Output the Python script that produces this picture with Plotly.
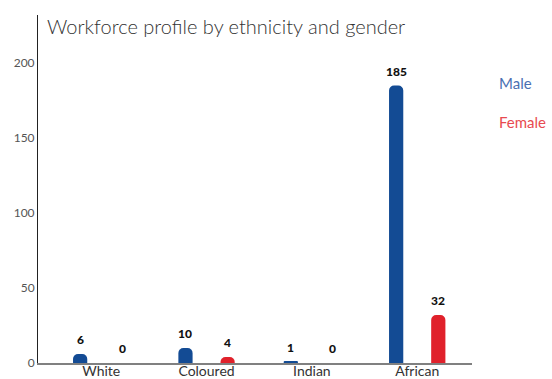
import plotly.graph_objects as go

# Workforce headcount by ethnicity and gender
categories = ["White", "Coloured", "Indian", "African"]
male = [6, 10, 1, 185]
female = [0, 4, 0, 32]
y_ticks = [0, 50, 100, 150, 200]

MALE_BAR = "#134b94"
FEMALE_BAR = "#e0212b"
MALE_TEXT = "#4a70b2"
FEMALE_TEXT = "#e84a50"
FONT = "Lato"

idx = list(range(len(categories)))
shift = 0.2
bar_w = 0.135

fig = go.Figure()
fig.add_trace(go.Bar(x=[i - shift for i in idx], y=male, width=bar_w,
                     marker=dict(color=MALE_BAR, line=dict(width=0)), name="Male"))
fig.add_trace(go.Bar(x=[i + shift for i in idx], y=female, width=bar_w,
                     marker=dict(color=FEMALE_BAR, line=dict(width=0)), name="Female"))

# value labels above each bar
label_font = dict(family=FONT, size=12, color="#111", weight=900)
annotations = []
for i, v in zip(idx, male):
    annotations.append(dict(x=i - shift, y=v, text=str(v), showarrow=False,
                            xref="x", yref="y", yanchor="bottom", yshift=5,
                            font=label_font))
for i, v in zip(idx, female):
    annotations.append(dict(x=i + shift, y=v, text=str(v), showarrow=False,
                            xref="x", yref="y", yanchor="bottom", yshift=5,
                            font=label_font))

# title and legend text
annotations.append(dict(x=0, y=1, xref="paper", yref="paper", xanchor="left", yanchor="top",
                        xshift=7, yshift=3, showarrow=False,
                        text="Workforce profile by ethnicity and gender",
                        font=dict(family=FONT, size=20, color="#333", weight=300)))
annotations.append(dict(x=1, y=0.805, xref="paper", yref="paper", showarrow=False,
                        text="Male", yanchor="middle",
                        font=dict(family=FONT, size=15, color=MALE_TEXT),
                        xanchor="left", xshift=25))
annotations.append(dict(x=1, y=0.6925, xref="paper", yref="paper", showarrow=False,
                        text="Female", yanchor="middle",
                        font=dict(family=FONT, size=15, color=FEMALE_TEXT),
                        xanchor="left", xshift=25))

fig.update_layout(
    width=552, height=379,
    margin=dict(l=38, r=80, t=15, b=16),
    paper_bgcolor="white", plot_bgcolor="white",
    showlegend=False,
    barcornerradius=5,
    font=dict(family=FONT, size=12, color="#555"),
    annotations=annotations,
    xaxis=dict(tickmode="array", tickvals=idx, ticktext=categories,
               range=[-0.6, 3.52], showgrid=False, zeroline=False, automargin=False,
               showline=True, linecolor="#808080", linewidth=2, ticks="",
               ticklabelstandoff=-6,
               tickfont=dict(family=FONT, size=14, color="#333")),
    yaxis=dict(range=[0, 232], tickvals=y_ticks, showgrid=False, zeroline=False,
               automargin=False,
               showline=True, linecolor="#222", linewidth=1, ticks="",
               tickfont=dict(family=FONT, size=12, color="#555")),
)

fig.write_html("out.html")
